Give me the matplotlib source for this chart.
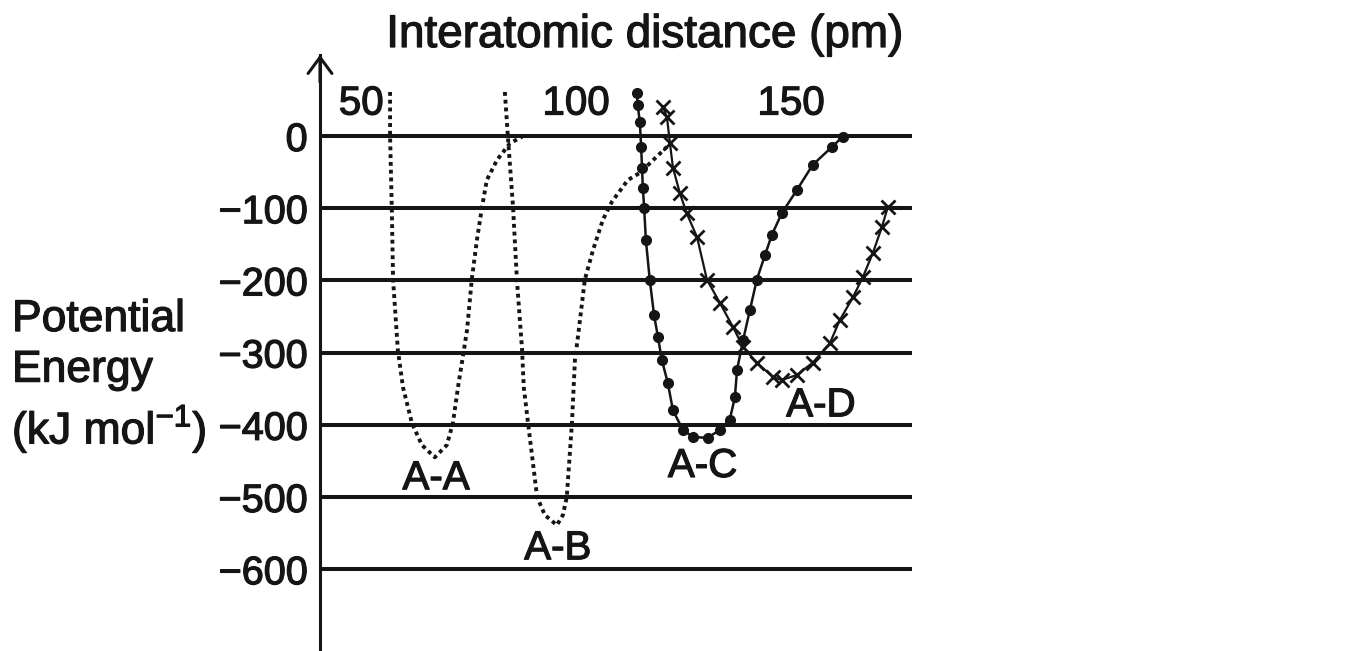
import matplotlib
matplotlib.use("Agg")
import matplotlib.pyplot as plt
import matplotlib.patheffects as pe

plt.rcParams['font.family'] = ['Liberation Sans', 'DejaVu Sans']
plt.rcParams['mathtext.fontset'] = 'custom'
plt.rcParams['mathtext.rm'] = 'Liberation Sans'

# Energy levels (kJ/mol) used as gridlines / y ticks
energy_levels = [0, -100, -200, -300, -400, -500, -600]
distance_ticks = [50, 100, 150]

# A-A (dotted)
aa_r = [56.7, 56.7, 57.1, 57.4, 58.5, 59.7, 61.8, 64.1, 67.1, 69.9, 71.3, 72.5,
        74.6, 75.7, 76.9, 78.1, 79.2, 81.6, 84.6, 87.4]
aa_e = [61, 0, -100, -199, -296, -348, -398, -428, -445, -428, -398, -348,
        -269, -199, -144, -98, -61, -33, -10, -1]

# A-B (dotted)
ab_r = [83.4, 84.1, 85.3, 86.2, 87.4, 87.8, 88.8, 90.9, 92.7, 95.5, 96.9, 97.8,
        99.0, 99.7, 100.4, 102.0, 103.9, 106.2, 108.3, 112.0, 114.8, 121.1]
ab_e = [61, -1, -98, -199, -296, -348, -398, -500, -525, -539, -525, -500,
        -398, -310, -278, -199, -158, -116, -91, -61, -51, -15]

# A-C (solid, dots)
ac_r = [114.1, 114.3, 114.8, 115.1, 115.3, 115.5, 115.8, 116.2, 117.1, 118.1,
        119.0, 119.9, 121.3, 122.5, 124.8, 127.2, 130.6, 133.4, 135.7, 136.9,
        137.4, 138.8, 140.4, 142.0, 143.9, 145.5, 147.8, 151.3, 155.0, 159.5, 162.0]
ac_e = [60, 43, 19, -15, -44, -72, -100, -144, -199, -248,
        -278, -310, -342, -380, -407, -417, -418, -407, -393, -362,
        -324, -283, -241, -199, -165, -137, -107, -75, -40, -15, -1]

# A-D (solid, crosses)
ad_r = [120.2, 121.1, 121.8, 122.5, 124.1, 125.7, 128.1, 130.4, 133.4, 136.5,
        138.8, 142.0, 145.8, 147.8, 151.3, 155.0, 159.0, 161.3, 164.4, 166.7,
        169.0, 171.1, 172.5]
ad_e = [40, 26, -10, -44, -79, -107, -140, -199, -231, -265,
        -292, -314, -334, -338, -331, -314, -287, -255, -223, -195,
        -162, -126, -98]

ink = '#151515'
heavy = [pe.withStroke(linewidth=0.9, foreground=ink)]

fig = plt.figure(figsize=(13.55, 6.51), dpi=100)
ax = fig.add_axes([320 / 1355, 0, 592 / 1355, 596 / 651])
ax.set_xlim(40.4, 178.1)
ax.set_ylim(-713.3, 112.2)

for e in energy_levels:
    ax.axhline(e, color=ink, lw=2.9, zorder=1)

ax.plot(aa_r, aa_e, color=ink, lw=2.8, ls=(0, (1, 1.0)), zorder=3)
ax.plot(ab_r, ab_e, color=ink, lw=2.8, ls=(0, (1, 1.0)), zorder=3)
ax.plot(ac_r, ac_e, color=ink, lw=1.8, marker='o', ms=7, zorder=4)
ax.plot(ad_r, ad_e, color=ink, lw=1.6, marker='x', ms=10, mew=2, zorder=4)

# curve labels
ax.text(67.4, -474, 'A-A', fontsize=29, ha='center', va='center', color=ink, path_effects=heavy)
ax.text(95.7, -571, 'A-B', fontsize=29, ha='center', va='center', color=ink, path_effects=heavy)
ax.text(129.4, -457, 'A-C', fontsize=29, ha='center', va='center', color=ink, path_effects=heavy)
ax.text(156.9, -373, 'A-D', fontsize=29, ha='center', va='center', color=ink, path_effects=heavy)

# distance labels above the zero line
for d in distance_ticks:
    ax.text(d, 45, str(d), fontsize=29, ha='center', va='center', color=ink, path_effects=heavy)

ax.set_yticks(energy_levels)
ax.set_yticklabels([str(e).replace('-', '\u2212') for e in energy_levels])
ax.tick_params(axis='y', length=0, pad=9, labelsize=28.5, labelcolor=ink)
for t in ax.get_yticklabels():
    t.set_path_effects(heavy)
ax.set_xticks([])
for s in ['top', 'right', 'bottom']:
    ax.spines[s].set_visible(False)
ax.spines['left'].set_linewidth(2.2)
ax.spines['left'].set_color(ink)
ax.annotate('', xy=(0, 1.005), xycoords='axes fraction', xytext=(0, 0.95),
            arrowprops=dict(arrowstyle='->,head_length=0.58,head_width=0.43',
                            lw=2.2, color=ink, mutation_scale=20))

fig.text(645 / 1355, 1 - 35 / 651, 'Interatomic distance (pm)', fontsize=33,
         ha='center', va='center', color=ink, path_effects=heavy)
fig.text(12 / 1355, 1 - 377 / 651, 'Potential\nEnergy\n(kJ mol$^{-1}$)',
         fontsize=32, ha='left', va='center', linespacing=1.3, color=ink,
         path_effects=heavy)

fig.savefig('out.png', dpi=100)
